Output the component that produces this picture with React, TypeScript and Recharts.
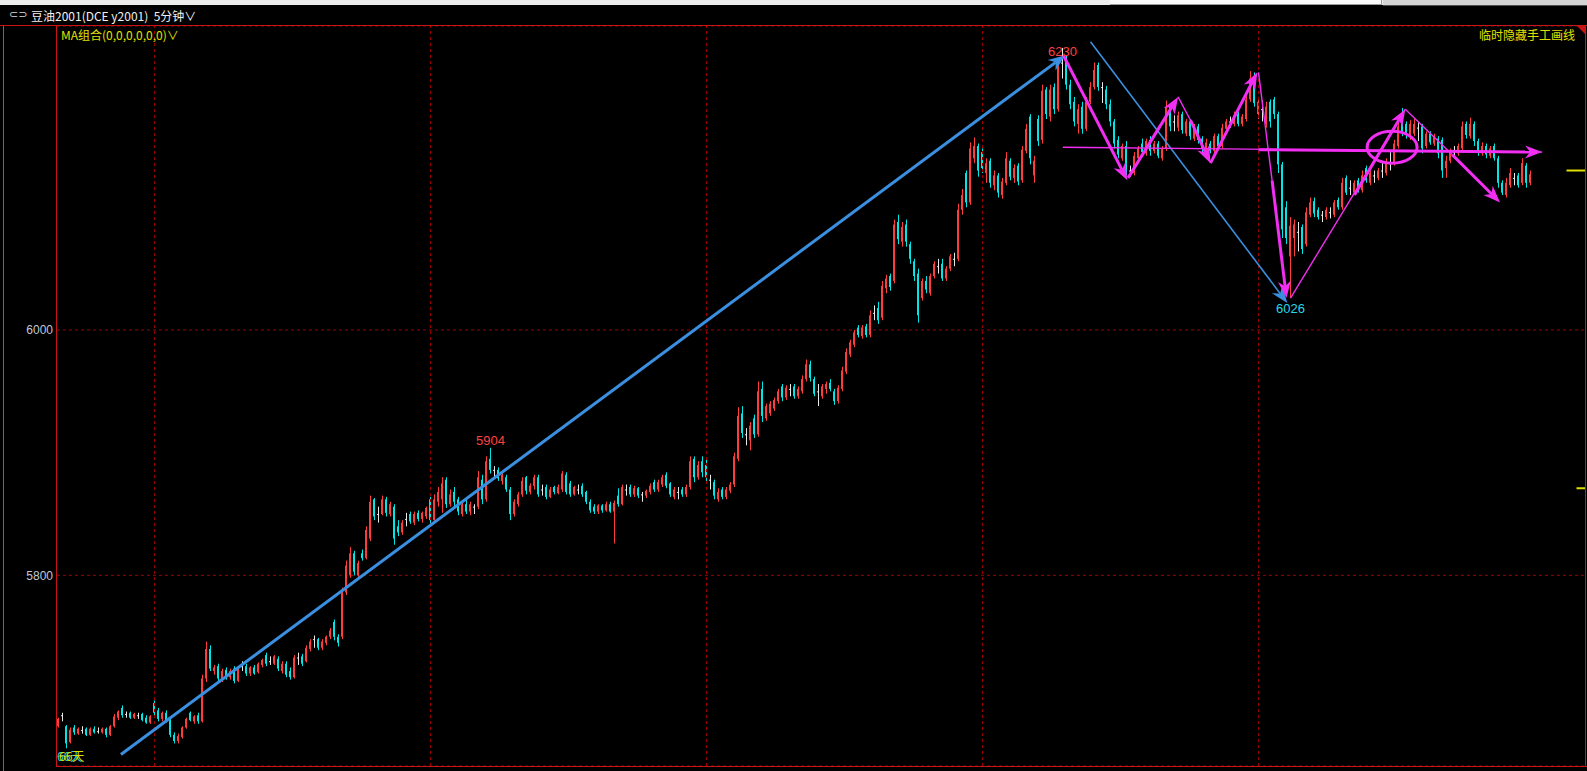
import React from 'react';
import {
  ComposedChart,
  Bar,
  XAxis,
  YAxis,
  CartesianGrid,
  ReferenceLine,
  ReferenceDot,
} from 'recharts';

// one bar = [open, high, low, close]
type Ohlc = [number, number, number, number];

const day0: Ohlc[] = [
  [5677, 5684, 5676, 5683], [5686, 5688, 5681, 5686], [5677, 5678, 5659, 5663], [5664, 5676, 5663, 5674],
  [5676, 5678, 5670, 5672], [5671, 5676, 5670, 5675], [5674, 5677, 5671, 5674], [5675, 5676, 5669, 5670],
  [5670, 5676, 5669, 5675], [5675, 5677, 5671, 5672], [5673, 5676, 5671, 5673], [5672, 5676, 5671, 5675],
  [5675, 5676, 5668, 5670], [5670, 5678, 5669, 5677], [5677, 5687, 5676, 5685], [5684, 5690, 5682, 5689],
  [5692, 5694, 5684, 5686], [5687, 5689, 5684, 5687], [5688, 5689, 5683, 5684], [5684, 5688, 5683, 5687],
  [5686, 5688, 5683, 5686], [5687, 5688, 5681, 5682], [5684, 5686, 5679, 5680], [5680, 5686, 5679, 5685],
];

const day1: Ohlc[] = [
  [5696, 5698, 5685, 5688], [5690, 5692, 5681, 5683], [5683, 5689, 5681, 5688], [5688, 5690, 5680, 5682],
  [5682, 5684, 5668, 5670], [5670, 5672, 5663, 5665], [5665, 5671, 5663, 5669], [5668, 5677, 5667, 5676],
  [5676, 5684, 5675, 5683], [5688, 5689, 5681, 5682], [5681, 5686, 5679, 5685], [5686, 5688, 5679, 5681],
  [5681, 5719, 5680, 5716], [5716, 5746, 5713, 5740], [5740, 5743, 5722, 5724], [5722, 5727, 5719, 5725],
  [5726, 5728, 5713, 5716], [5716, 5724, 5713, 5722], [5723, 5725, 5715, 5717], [5717, 5724, 5715, 5722],
  [5724, 5726, 5712, 5714], [5714, 5725, 5713, 5724], [5726, 5730, 5722, 5726], [5726, 5728, 5718, 5720],
  [5720, 5726, 5718, 5725], [5725, 5727, 5719, 5720], [5721, 5729, 5720, 5728], [5727, 5732, 5725, 5731],
  [5735, 5737, 5726, 5728], [5730, 5734, 5727, 5730], [5728, 5735, 5727, 5734], [5732, 5734, 5722, 5724],
  [5722, 5730, 5720, 5728], [5728, 5730, 5717, 5719], [5722, 5725, 5715, 5717], [5717, 5735, 5716, 5733],
  [5733, 5737, 5727, 5733], [5734, 5736, 5726, 5728], [5730, 5743, 5729, 5741], [5740, 5748, 5738, 5746],
  [5748, 5751, 5741, 5748], [5748, 5749, 5739, 5741], [5741, 5748, 5739, 5746], [5745, 5751, 5743, 5750],
  [5750, 5757, 5748, 5755], [5762, 5764, 5747, 5750], [5750, 5752, 5742, 5745], [5750, 5790, 5748, 5786],
  [5786, 5812, 5784, 5808], [5800, 5823, 5798, 5818], [5818, 5820, 5800, 5803], [5800, 5812, 5797, 5810],
  [5818, 5821, 5812, 5814], [5814, 5840, 5813, 5837], [5830, 5865, 5828, 5860], [5862, 5863, 5845, 5848],
  [5850, 5856, 5843, 5850], [5850, 5865, 5849, 5862], [5862, 5864, 5848, 5851], [5850, 5860, 5848, 5858],
  [5856, 5858, 5825, 5830], [5840, 5845, 5832, 5835], [5835, 5845, 5833, 5843], [5846, 5851, 5840, 5846],
  [5850, 5852, 5842, 5844], [5843, 5852, 5841, 5850], [5851, 5853, 5844, 5846], [5846, 5852, 5843, 5851],
  [5848, 5856, 5846, 5855],
];

const day2: Ohlc[] = [
  [5862, 5864, 5840, 5845], [5845, 5866, 5843, 5862], [5860, 5872, 5856, 5868], [5862, 5880, 5851, 5875],
  [5878, 5880, 5855, 5858], [5858, 5870, 5856, 5866], [5868, 5872, 5856, 5860], [5862, 5864, 5849, 5852],
  [5850, 5860, 5848, 5858], [5858, 5862, 5850, 5852], [5852, 5860, 5849, 5858], [5856, 5858, 5850, 5856],
  [5856, 5885, 5854, 5880], [5878, 5882, 5858, 5862], [5862, 5897, 5860, 5893], [5895, 5904, 5883, 5886],
  [5886, 5889, 5880, 5886], [5886, 5888, 5877, 5879], [5877, 5884, 5874, 5882], [5880, 5882, 5868, 5870],
  [5870, 5872, 5845, 5850], [5850, 5862, 5848, 5860], [5858, 5868, 5856, 5866], [5866, 5880, 5864, 5877],
  [5880, 5881, 5866, 5869], [5868, 5875, 5866, 5873], [5873, 5882, 5870, 5880], [5880, 5882, 5864, 5866],
  [5870, 5874, 5865, 5870], [5872, 5874, 5862, 5864], [5864, 5872, 5863, 5870], [5872, 5873, 5866, 5868],
  [5867, 5874, 5866, 5872], [5870, 5885, 5868, 5883], [5882, 5884, 5866, 5868], [5875, 5877, 5864, 5866],
  [5866, 5873, 5865, 5872], [5870, 5874, 5866, 5870], [5873, 5875, 5864, 5866], [5868, 5869, 5858, 5860],
  [5860, 5862, 5851, 5853], [5856, 5858, 5850, 5852], [5852, 5858, 5850, 5857], [5857, 5858, 5851, 5853],
  [5853, 5860, 5852, 5858], [5858, 5860, 5851, 5852], [5852, 5861, 5826, 5859], [5865, 5871, 5856, 5858],
  [5858, 5874, 5857, 5872], [5870, 5874, 5865, 5870], [5872, 5874, 5864, 5866], [5866, 5873, 5864, 5871],
  [5871, 5872, 5863, 5865], [5866, 5868, 5860, 5866], [5865, 5870, 5863, 5869], [5868, 5875, 5866, 5873],
  [5876, 5878, 5868, 5870], [5870, 5878, 5868, 5876], [5874, 5882, 5872, 5880], [5882, 5884, 5871, 5873],
  [5875, 5876, 5864, 5866], [5864, 5872, 5862, 5870], [5868, 5872, 5862, 5868], [5870, 5872, 5864, 5866],
  [5866, 5874, 5864, 5872], [5872, 5897, 5870, 5893], [5895, 5897, 5876, 5880], [5880, 5893, 5878, 5890],
  [5893, 5897, 5880, 5884],
];

const day3: Ohlc[] = [
  [5890, 5895, 5876, 5880], [5878, 5882, 5870, 5878], [5876, 5878, 5862, 5865], [5862, 5871, 5860, 5868],
  [5870, 5872, 5862, 5864], [5864, 5872, 5862, 5870], [5869, 5876, 5867, 5874], [5874, 5900, 5872, 5897],
  [5895, 5937, 5893, 5930], [5932, 5938, 5912, 5916], [5915, 5920, 5906, 5915], [5910, 5925, 5902, 5922],
  [5928, 5931, 5912, 5915], [5915, 5958, 5913, 5950], [5952, 5958, 5925, 5930], [5928, 5940, 5926, 5938],
  [5932, 5942, 5930, 5940], [5936, 5945, 5934, 5943], [5942, 5952, 5940, 5950], [5954, 5956, 5942, 5945],
  [5945, 5955, 5943, 5953], [5952, 5956, 5946, 5952], [5954, 5956, 5944, 5946], [5946, 5954, 5944, 5952],
  [5950, 5963, 5948, 5960], [5960, 5976, 5958, 5972], [5972, 5975, 5958, 5961], [5960, 5962, 5946, 5948],
  [5950, 5956, 5938, 5950], [5946, 5956, 5944, 5954], [5952, 5958, 5948, 5956], [5957, 5960, 5950, 5952],
  [5950, 5952, 5939, 5942], [5942, 5955, 5940, 5953], [5952, 5970, 5950, 5967], [5966, 5985, 5964, 5982],
  [5980, 5992, 5978, 5990], [5988, 6000, 5986, 5998], [6002, 6004, 5994, 5996], [5995, 6004, 5993, 6002],
  [6003, 6005, 5994, 5996], [5996, 6016, 5994, 6012], [6014, 6020, 6008, 6014], [6018, 6023, 6005, 6008],
  [6010, 6040, 6008, 6036], [6034, 6045, 6030, 6042], [6044, 6046, 6032, 6035], [6040, 6090, 6038, 6086],
  [6088, 6094, 6070, 6074], [6072, 6088, 6068, 6084], [6086, 6090, 6068, 6072], [6070, 6072, 6054, 6058],
  [6056, 6058, 6040, 6044], [6046, 6050, 6006, 6012], [6026, 6042, 6024, 6040], [6040, 6044, 6030, 6033],
  [6030, 6046, 6028, 6044], [6044, 6056, 6042, 6054], [6052, 6058, 6046, 6052], [6054, 6058, 6040, 6042],
  [6042, 6052, 6040, 6050], [6050, 6062, 6048, 6060], [6058, 6063, 6052, 6058], [6058, 6103, 6056, 6098],
  [6098, 6115, 6094, 6110], [6128, 6130, 6100, 6104], [6104, 6153, 6102, 6148], [6140, 6157, 6136, 6150],
  [6150, 6152, 6125, 6130],
];

const day4: Ohlc[] = [
  [6145, 6148, 6128, 6132], [6128, 6140, 6120, 6136], [6138, 6140, 6116, 6120], [6118, 6130, 6114, 6126],
  [6126, 6128, 6108, 6112], [6110, 6124, 6107, 6121], [6120, 6145, 6118, 6140], [6138, 6140, 6122, 6125],
  [6124, 6135, 6120, 6132], [6134, 6136, 6118, 6121], [6122, 6150, 6120, 6147], [6146, 6168, 6144, 6164],
  [6174, 6176, 6135, 6140], [6126, 6142, 6120, 6138], [6172, 6175, 6150, 6154], [6155, 6200, 6152, 6195],
  [6196, 6198, 6172, 6176], [6174, 6200, 6170, 6196], [6198, 6201, 6176, 6180], [6180, 6222, 6178, 6218],
  [6218, 6230, 6205, 6218], [6222, 6224, 6196, 6200], [6200, 6204, 6180, 6184], [6186, 6190, 6166, 6170],
  [6168, 6184, 6160, 6180], [6182, 6186, 6160, 6164], [6164, 6190, 6162, 6186], [6186, 6202, 6184, 6198],
  [6198, 6218, 6196, 6212], [6216, 6218, 6195, 6198], [6198, 6202, 6185, 6198], [6196, 6199, 6180, 6184],
  [6184, 6188, 6166, 6170], [6170, 6172, 6148, 6152], [6155, 6158, 6140, 6143], [6140, 6152, 6138, 6150],
  [6150, 6154, 6126, 6130], [6130, 6134, 6125, 6130], [6128, 6145, 6126, 6142], [6140, 6150, 6138, 6148],
  [6152, 6156, 6142, 6145], [6144, 6156, 6142, 6154], [6155, 6158, 6142, 6146], [6146, 6154, 6144, 6152],
  [6152, 6154, 6140, 6142], [6140, 6150, 6138, 6148], [6148, 6187, 6146, 6182], [6182, 6184, 6162, 6166],
  [6170, 6175, 6162, 6170], [6165, 6178, 6162, 6175], [6176, 6178, 6160, 6163], [6160, 6172, 6158, 6170],
  [6170, 6172, 6155, 6158], [6156, 6168, 6154, 6165], [6166, 6168, 6152, 6155], [6156, 6158, 6144, 6148],
  [6146, 6156, 6143, 6153], [6152, 6154, 6144, 6146], [6146, 6160, 6144, 6158], [6158, 6160, 6148, 6150],
  [6150, 6168, 6148, 6165], [6164, 6172, 6162, 6170], [6170, 6174, 6165, 6170], [6168, 6178, 6166, 6175],
  [6176, 6178, 6166, 6168], [6168, 6176, 6166, 6174], [6172, 6192, 6170, 6188], [6188, 6211, 6186, 6205],
  [6206, 6210, 6182, 6185],
];

const day5: Ohlc[] = [
  [6176, 6190, 6172, 6186], [6180, 6187, 6170, 6180], [6168, 6186, 6165, 6182], [6186, 6188, 6165, 6170],
  [6188, 6190, 6172, 6176], [6176, 6178, 6128, 6135], [6135, 6137, 6075, 6082], [6100, 6105, 6070, 6075],
  [6060, 6092, 6026, 6085], [6075, 6090, 6060, 6086], [6080, 6088, 6064, 6080], [6084, 6086, 6062, 6066],
  [6070, 6100, 6068, 6096], [6094, 6108, 6092, 6104], [6105, 6108, 6092, 6095], [6098, 6100, 6090, 6092],
  [6094, 6097, 6088, 6094], [6092, 6100, 6090, 6098], [6096, 6100, 6091, 6096], [6094, 6106, 6092, 6104],
  [6106, 6108, 6098, 6100], [6100, 6124, 6098, 6120], [6124, 6126, 6110, 6112], [6116, 6122, 6110, 6116],
  [6112, 6122, 6110, 6120], [6122, 6124, 6112, 6114], [6114, 6130, 6112, 6126], [6132, 6134, 6120, 6122],
  [6120, 6130, 6118, 6128], [6126, 6130, 6120, 6126], [6124, 6132, 6122, 6130], [6130, 6136, 6124, 6130],
  [6128, 6140, 6126, 6137], [6136, 6145, 6130, 6136], [6136, 6155, 6134, 6152], [6150, 6170, 6148, 6166],
  [6172, 6181, 6158, 6162], [6168, 6170, 6156, 6160], [6158, 6171, 6155, 6168], [6160, 6172, 6158, 6168],
  [6165, 6170, 6154, 6165], [6166, 6168, 6144, 6148], [6150, 6162, 6148, 6160], [6160, 6162, 6151, 6153],
  [6152, 6160, 6150, 6158], [6156, 6158, 6140, 6144], [6155, 6157, 6124, 6130], [6132, 6142, 6124, 6138],
  [6138, 6148, 6136, 6146], [6145, 6150, 6140, 6145], [6144, 6152, 6142, 6150], [6148, 6170, 6146, 6166],
  [6168, 6170, 6156, 6159], [6158, 6173, 6156, 6168], [6168, 6170, 6150, 6154], [6154, 6156, 6142, 6146],
  [6144, 6153, 6142, 6150], [6150, 6152, 6140, 6143], [6142, 6150, 6140, 6148], [6150, 6152, 6138, 6140],
  [6140, 6142, 6116, 6120], [6120, 6122, 6110, 6112], [6110, 6124, 6108, 6120], [6118, 6132, 6116, 6128],
  [6124, 6128, 6118, 6124], [6126, 6128, 6116, 6118], [6120, 6140, 6118, 6136], [6134, 6136, 6116, 6120],
  [6120, 6130, 6118, 6127],
];

const days = [day0, day1, day2, day3, day4, day5];
const priceTicks = [5800, 6000];

// high/low marks written on the chart
const extremes = [
  { i: 108, price: 5904, text: '5904', color: '#ff4040', place: 'above' },
  { i: 251, price: 6230, text: '6230', color: '#ff4040', place: 'on' },
  { i: 308, price: 6026, text: '6026', color: '#22d8e8', place: 'below' },
];

// hand drawn lines, [bar index, price]
const blueArrows = [
  { from: [15.6, 5654], to: [251.7, 6224], width: 3 },
  { from: [258, 6235], to: [307.2, 6022], width: 1.6 },
];
const pinkLines = [
  { from: [251.1, 6149], to: [370.9, 6145] },
  { from: [279.9, 6190], to: [283, 6171] },
  { from: [300, 6210], to: [303.4, 6122] },
  { from: [308, 6026], to: [336.7, 6180] },
  { from: [336.7, 6180], to: [348.4, 6143] },
];
const pinkArrows = [
  { from: [251.2, 6224], to: [267.2, 6122] },
  { from: [267.4, 6124], to: [279.9, 6190] },
  { from: [283, 6171], to: [288, 6136] },
  { from: [288, 6136], to: [299.7, 6210] },
  { from: [303.4, 6122], to: [307, 6026] },
  { from: [324, 6110], to: [336.7, 6180] },
  { from: [348.4, 6143], to: [360.4, 6104] },
  { from: [300, 6147], to: [370.9, 6145] },
];
const circled = [{ i: 333.4, price: 6149 }];
const rightMarks = [
  { from: 377, price: 6130 },
  { from: 379.5, price: 5871 },
];

const UP = '#ff3c3c';
const DOWN = '#00e6e6';
const FLAT = '#e8e8e8';
const PINK = '#f22ef2';
const BLUE = '#3a8fe0';
const GRID = '#a00000';
const FRAME = '#c81414';
const YELLOW = '#e0e000';

const candles = days.flat().map((b, i) => ({ i, range: [b[2], b[1]], ohlc: b }));
const dayEdges = days
  .slice(1)
  .map((_, k) => days.slice(0, k + 1).reduce((s, d) => s + d.length, 0));

function Candle(props: any) {
  const { x, y, width, height, payload } = props;
  if (!payload) return null;
  const [o, h, l, c] = payload.ohlc;
  const top = Math.min(y, y + height);
  const span = Math.abs(height);
  const k = h > l ? span / (h - l) : 0;
  const py = (v: number) => top + (h - v) * k;
  const cx = Math.floor(x + width / 2);
  const color = c > o ? UP : c < o ? DOWN : FLAT;
  const bTop = py(Math.max(o, c));
  const bH = Math.max(1, py(Math.min(o, c)) - bTop);
  return (
    <g>
      <rect x={cx} y={top} width={1} height={Math.max(1, span)} fill={color} />
      <rect x={cx - 1} y={bTop} width={2} height={bH} fill={color} />
    </g>
  );
}

const arrowShape = (color: string, width: number, head: boolean) => (p: any) => {
  const { x1, y1, x2, y2 } = p;
  const dx = x2 - x1;
  const dy = y2 - y1;
  const len = Math.hypot(dx, dy) || 1;
  const ux = dx / len;
  const uy = dy / len;
  const hl = 17;
  const hw = 6.5;
  const bx = x2 - ux * hl;
  const by = y2 - uy * hl;
  const pts = `${x2},${y2} ${bx - uy * hw},${by + ux * hw} ${bx + ux * 5},${by + uy * 5} ${bx + uy * hw},${by - ux * hw}`;
  return (
    <g>
      <line
        x1={x1}
        y1={y1}
        x2={head ? bx + ux * 5 : x2}
        y2={head ? by + uy * 5 : y2}
        stroke={color}
        strokeWidth={width}
      />
      {head && <polygon points={pts} fill={color} />}
    </g>
  );
};

const seg = (a: number[], b: number[]) => [
  { x: a[0], y: a[1] },
  { x: b[0], y: b[1] },
];

export default function App() {
  const abs = (s: React.CSSProperties): React.CSSProperties => ({ position: 'absolute', ...s });
  return (
    <div
      style={{
        position: 'absolute',
        left: 0,
        top: 0,
        width: 1587,
        height: 771,
        background: '#000',
        overflow: 'hidden',
        fontFamily: '"Noto Sans CJK SC", "Liberation Sans", sans-serif',
      }}
    >
      <div style={abs({ left: 0, top: 0, width: 1587, height: 5, background: '#ececec' })} />
      <div style={abs({ left: 1110, top: 0, width: 271, height: 4, background: '#fafafa', borderRight: '1px solid #9a9a9a', borderBottom: '1px solid #9a9a9a' })} />
      <div style={abs({ left: 1383, top: 0, width: 204, height: 5, background: '#d4d4d4', borderBottom: '1px solid #505050' })} />

      <div style={abs({ left: 0, top: 0 })}>
        <ComposedChart
          width={1587}
          height={771}
          data={candles}
          margin={{ top: 26, right: 2, bottom: 5, left: 0 }}
        >
          <CartesianGrid vertical={false} stroke={GRID} strokeDasharray="3 3" />
          <XAxis
            dataKey="i"
            type="number"
            domain={[-0.375, 381.625]}
            allowDataOverflow
            hide
          />
          <YAxis
            type="number"
            domain={[5644.6, 6247.8]}
            allowDataOverflow
            ticks={priceTicks}
            width={57}
            axisLine={false}
            tickLine={false}
            tickSize={0}
            tickMargin={4}
            tick={{ fill: '#c0c8d6', fontSize: 12, fontFamily: '"Liberation Sans", Arial, sans-serif' }}
          />
          {dayEdges.map((e) => (
            <ReferenceLine key={`d${e}`} x={e} stroke={GRID} strokeDasharray="3 3" />
          ))}
          <Bar dataKey="range" barSize={2} shape={<Candle />} isAnimationActive={false} />
          {blueArrows.map((a, k) => (
            <ReferenceLine
              key={`b${k}`}
              segment={seg(a.from, a.to)}
              ifOverflow="visible"
              shape={arrowShape(BLUE, a.width, true)}
            />
          ))}
          {pinkLines.map((a, k) => (
            <ReferenceLine
              key={`pl${k}`}
              segment={seg(a.from, a.to)}
              ifOverflow="visible"
              shape={arrowShape(PINK, 1.4, false)}
            />
          ))}
          {pinkArrows.map((a, k) => (
            <ReferenceLine
              key={`pa${k}`}
              segment={seg(a.from, a.to)}
              ifOverflow="visible"
              shape={arrowShape(PINK, 3, true)}
            />
          ))}
          {rightMarks.map((m, k) => (
            <ReferenceLine
              key={`r${k}`}
              segment={seg([m.from, m.price], [381.625, m.price])}
              ifOverflow="visible"
              stroke={YELLOW}
              strokeWidth={2}
            />
          ))}
          {circled.map((c, k) => (
            <ReferenceDot
              key={`c${k}`}
              x={c.i}
              y={c.price}
              r={0}
              ifOverflow="visible"
              shape={(p: any) => (
                <ellipse cx={p.cx} cy={p.cy} rx={25} ry={16} fill="none" stroke={PINK} strokeWidth={3} />
              )}
            />
          ))}
          {extremes.map((m) => (
            <ReferenceDot
              key={m.text}
              x={m.i}
              y={m.price}
              r={0}
              ifOverflow="visible"
              shape={(p: any) => (
                <text
                  x={p.cx}
                  y={m.place === 'above' ? p.cy - 3 : m.place === 'below' ? p.cy + 15 : p.cy + 8}
                  textAnchor="middle"
                  fill={m.color}
                  fontSize={13}
                  fontFamily='"Liberation Sans", Arial, sans-serif'
                >
                  {m.text}
                </text>
              )}
            />
          ))}
        </ComposedChart>
      </div>

      {/* frame */}
      <div style={abs({ left: 0, top: 25, width: 1587, height: 1, background: FRAME })} />
      <div style={abs({ left: 56, top: 25, width: 1, height: 742, background: FRAME })} />
      <div style={abs({ left: 1585, top: 25, width: 1, height: 742, background: FRAME })} />
      <div style={abs({ left: 56, top: 766, width: 1531, height: 1, background: FRAME })} />
      <div style={abs({ left: 3, top: 26, width: 1, height: 745, background: '#6a6a6a' })} />
      <div style={abs({ left: 1577, top: 26, width: 0, height: 0, borderTop: `8px solid ${FRAME}`, borderLeft: '8px solid transparent' })} />

      {/* captions */}
      <div style={abs({ left: 9, top: 8, color: '#d8d8d8', fontSize: 11, lineHeight: '14px', fontFamily: '"DejaVu Sans", sans-serif' })}>⊂⊃</div>
      <div style={abs({ left: 31, top: 7, color: '#f0f0f0', fontSize: 12, lineHeight: '17px', whiteSpace: 'pre' })}>
        {'豆油2001(DCE y2001)  5分钟∨'}
      </div>
      <div style={abs({ left: 61, top: 26, color: YELLOW, fontSize: 12, lineHeight: '17px', whiteSpace: 'pre' })}>
        {'MA组合(0,0,0,0,0,0)∨'}
      </div>
      <div style={abs({ right: 12, top: 26, color: YELLOW, fontSize: 12, lineHeight: '17px' })}>临时隐藏手工画线</div>
      <div style={abs({ left: 59, top: 748, color: YELLOW, fontSize: 12, lineHeight: '16px', textShadow: '-2px 0 #22d8e8' })}>66天</div>
    </div>
  );
}
